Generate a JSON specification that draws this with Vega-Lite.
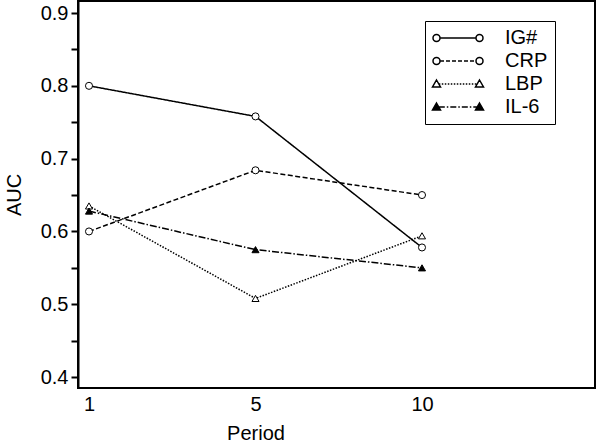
{
  "$schema": "https://vega.github.io/schema/vega-lite/v6.json",
  "autosize": "none",
  "width": 517,
  "height": 387,
  "padding": {"left": 78, "top": 1, "right": 5, "bottom": 57},
  "background": "white",
  "data": {
    "values": [
      {"Series": "IG#", "Period": 1, "AUC": 0.800},
      {"Series": "IG#", "Period": 5, "AUC": 0.758},
      {"Series": "IG#", "Period": 10, "AUC": 0.578},
      {"Series": "CRP", "Period": 1, "AUC": 0.600},
      {"Series": "CRP", "Period": 5, "AUC": 0.684},
      {"Series": "CRP", "Period": 10, "AUC": 0.650},
      {"Series": "LBP", "Period": 1, "AUC": 0.635},
      {"Series": "LBP", "Period": 5, "AUC": 0.508},
      {"Series": "LBP", "Period": 10, "AUC": 0.594},
      {"Series": "IL-6", "Period": 1, "AUC": 0.628},
      {"Series": "IL-6", "Period": 5, "AUC": 0.575},
      {"Series": "IL-6", "Period": 10, "AUC": 0.550}
    ]
  },
  "config": {
    "view": {"stroke": "black", "strokeWidth": 2},
    "font": "Liberation Sans",
    "axis": {
      "domainColor": "black",
      "domainWidth": 2,
      "labelColor": "black",
      "labelFont": "Liberation Sans",
      "labelFontSize": 20,
      "titleColor": "black",
      "titleFont": "Liberation Sans",
      "titleFontSize": 20,
      "titleFontWeight": "normal",
      "tickColor": "black",
      "grid": false
    }
  },
  "encoding": {
    "x": {
      "field": "Period",
      "type": "ordinal",
      "sort": [1, 5, 10],
      "scale": {"type": "point", "domain": [1, 5, 10], "range": [11, 344], "padding": 0},
      "axis": {"title": "Period", "labelAngle": 0, "ticks": false, "domain": false, "labelPadding": 6, "titlePadding": 9}
    },
    "y": {
      "field": "AUC",
      "type": "quantitative",
      "scale": {"domain": [0.385, 0.9165], "nice": false, "zero": false},
      "axis": {
        "title": "AUC",
        "values": [0.4, 0.45, 0.5, 0.55, 0.6, 0.65, 0.7, 0.75, 0.8, 0.85, 0.9],
        "labelExpr": "round(datum.value*100) % 10 == 0 ? format(datum.value, '.1f') : ''",
        "ticks": true,
        "tickSize": 7,
        "tickWidth": 2,
        "labelPadding": 3,
        "titlePadding": 16
      }
    }
  },
  "layer": [
    {
      "mark": {"type": "line", "color": "black", "strokeWidth": 1.5},
      "encoding": {
        "detail": {"field": "Series"},
        "strokeDash": {
          "condition": [
            {"test": "datum.Series == 'CRP'", "value": [5, 2.5]},
            {"test": "datum.Series == 'LBP'", "value": [1.5, 1.5]},
            {"test": "datum.Series == 'IL-6'", "value": [7, 2, 1.5, 2]}
          ],
          "value": [1, 0]
        }
      }
    },
    {
      "mark": {"type": "point", "filled": true, "stroke": "black", "strokeWidth": 1, "size": 50, "opacity": 1},
      "encoding": {
        "shape": {
          "condition": {"test": "datum.Series == 'LBP' || datum.Series == 'IL-6'", "value": "triangle-up"},
          "value": "circle"
        },
        "fill": {
          "condition": {"test": "datum.Series == 'IL-6'", "value": "black"},
          "value": "white"
        }
      }
    },
    {
      "transform": [{"filter": "false"}],
      "mark": {"type": "point", "filled": true, "stroke": "black", "strokeWidth": 1.2, "size": 100, "opacity": 1},
      "encoding": {
        "shape": {
          "field": "Series",
          "type": "nominal",
          "scale": {
            "domain": ["IG#", "CRP", "LBP", "IL-6"],
            "range": [
              "M-3.6,0L3.6,0M-5,0C-5,-0.387 -4.687,-0.7 -4.3,-0.7C-3.913,-0.7 -3.6,-0.387 -3.6,0C-3.6,0.387 -3.913,0.7 -4.3,0.7C-4.687,0.7 -5,0.387 -5,0ZM3.6,0C3.6,-0.387 3.913,-0.7 4.3,-0.7C4.687,-0.7 5,-0.387 5,0C5,0.387 4.687,0.7 4.3,0.7C3.913,0.7 3.6,0.387 3.6,0Z",
              "M-3.6,0L-2.8,0M-2.4,0L-1.6,0M-1.2,0L-0.4,0M0,0L0.8,0M1.2,0L2,0M2.4,0L3.2,0M-5,0C-5,-0.387 -4.687,-0.7 -4.3,-0.7C-3.913,-0.7 -3.6,-0.387 -3.6,0C-3.6,0.387 -3.913,0.7 -4.3,0.7C-4.687,0.7 -5,0.387 -5,0ZM3.6,0C3.6,-0.387 3.913,-0.7 4.3,-0.7C4.687,-0.7 5,-0.387 5,0C5,0.387 4.687,0.7 4.3,0.7C3.913,0.7 3.6,0.387 3.6,0Z",
              "M-3.84,0L-3.54,0M-3.24,0L-2.94,0M-2.64,0L-2.34,0M-2.04,0L-1.74,0M-1.44,0L-1.14,0M-0.84,0L-0.54,0M-0.24,0L0.06,0M0.36,0L0.66,0M0.96,0L1.26,0M1.56,0L1.86,0M2.16,0L2.46,0M2.76,0L3.06,0M3.36,0L3.66,0M-4.3,-0.8L-3.5,0.6L-5.1,0.6ZM4.3,-0.8L5.1,0.6L3.5,0.6Z",
              "M-3.84,0L-2.64,0M-2.24,0L-1.94,0M-1.54,0L-0.34,0M0.06,0L0.36,0M0.76,0L1.96,0M2.36,0L2.66,0M3.06,0L3.84,0M-4.3,-0.8L-3.5,0.6L-5.1,0.6ZM4.3,-0.8L5.1,0.6L3.5,0.6Z"
            ]
          },
          "legend": {
            "title": null,
            "orient": "none",
            "legendX": 347,
            "legendY": 20,
            "strokeColor": "black",
            "padding": 7,
            "rowPadding": 3,
            "symbolSize": 100,
            "symbolOffset": 16,
            "labelOffset": 37,
            "labelFontSize": 20,
            "labelColor": "black",
            "labelFont": "Liberation Sans"
          }
        },
        "fill": {
          "field": "Series",
          "type": "nominal",
          "scale": {"domain": ["IG#", "CRP", "LBP", "IL-6"], "range": ["white", "white", "white", "black"]},
          "legend": {
            "title": null,
            "orient": "none",
            "legendX": 347,
            "legendY": 20
          }
        }
      }
    }
  ]
}
